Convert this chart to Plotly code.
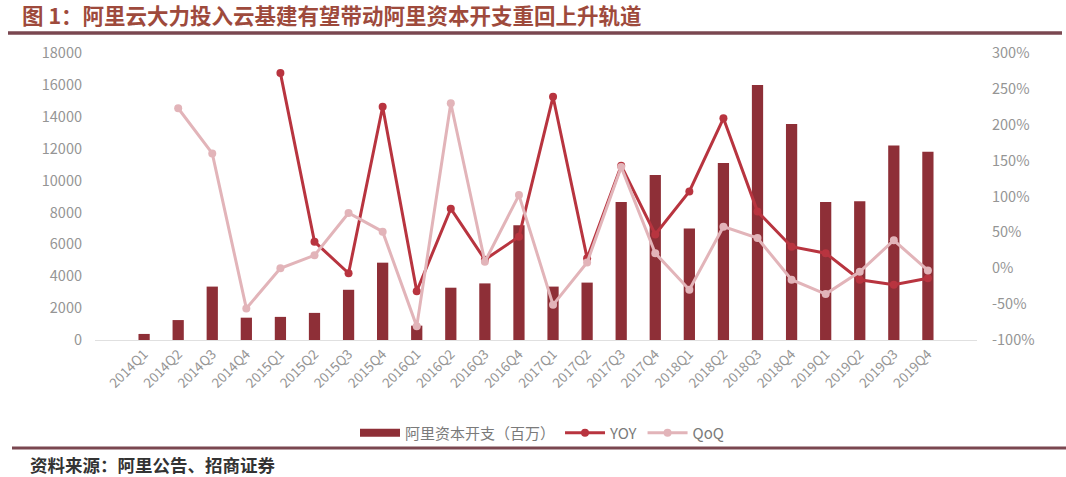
import plotly.graph_objects as go

quarters = ["2014Q1", "2014Q2", "2014Q3", "2014Q4",
            "2015Q1", "2015Q2", "2015Q3", "2015Q4",
            "2016Q1", "2016Q2", "2016Q3", "2016Q4",
            "2017Q1", "2017Q2", "2017Q3", "2017Q4",
            "2018Q1", "2018Q2", "2018Q3", "2018Q4",
            "2019Q1", "2019Q2", "2019Q3", "2019Q4"]

capex = [380, 1250, 3350, 1400, 1450, 1700, 3150, 4850,
         900, 3280, 3550, 7200, 3350, 3600, 8650, 10350,
         7000, 11100, 16000, 13550, 8650, 8700, 12200, 11800]

yoy = [None, None, None, None, 272, 37, -7, 225,
       -32, 83, 12, 44, 239, 14, 143, 47,
       107, 209, 79, 30, 21, -16, -23, -14]

qoq = [None, 223, 160, -56, 0, 18, 77, 51,
       -81, 230, 9, 102, -51, 8, 141, 21,
       -30, 58, 42, -16, -36, -5, 39, -3]

left_ticks = list(range(0, 18001, 2000))
right_ticks = list(range(-100, 301, 50))

BAR = "#8e2f37"
YOY_C = "#b8343f"
QOQ_C = "#e2b4b9"
TICK = "#959595"
FONT = "Noto Sans CJK SC"

W, H = 1066, 477
L, R, T, B = 95, 89, 53, 137
pw, ph = W - L - R, H - T - B


def px(x):
    return (x - L) / pw


def py(y):
    return (H - B - y) / ph


fig = go.Figure()
fig.add_trace(go.Bar(x=quarters, y=capex, name="阿里资本开支（百万）",
                     marker=dict(color=BAR, line=dict(width=0)), yaxis="y",
                     showlegend=False))
# legend swatch for the bar series (wide rectangle, as in the reference)
fig.add_trace(go.Scatter(x=[None], y=[None], name="阿里资本开支（百万）",
                         mode="lines", line=dict(color=BAR, width=8),
                         yaxis="y", showlegend=True))
fig.add_trace(go.Scatter(x=quarters, y=yoy, name="YOY", mode="lines+markers",
                         line=dict(color=YOY_C, width=3),
                         marker=dict(color=YOY_C, size=8), yaxis="y2"))
fig.add_trace(go.Scatter(x=quarters, y=qoq, name="QoQ", mode="lines+markers",
                         line=dict(color=QOQ_C, width=3),
                         marker=dict(color=QOQ_C, size=8), yaxis="y2"))

fig.update_layout(
    width=W, height=H,
    margin=dict(l=L, r=R, t=T, b=B),
    paper_bgcolor="white", plot_bgcolor="white",
    font=dict(family=FONT, color=TICK, size=12),
    bargap=0.67,
    showlegend=True,
    legend=dict(orientation="h", x=px(542), xanchor="center",
                y=py(433), yanchor="middle",
                bgcolor="rgba(0,0,0,0)",
                font=dict(size=15, color="#7a7a7a", family=FONT),
                itemwidth=40, tracegroupgap=0),
    xaxis=dict(type="category", tickangle=-45, showgrid=False,
               showline=True, linecolor="#e0e0e0", linewidth=1,
               ticks="", tickfont=dict(size=13.5, color=TICK),
               automargin=False),
    yaxis=dict(range=[0, 18000], tickvals=left_ticks,
               ticktext=[str(v) for v in left_ticks], showgrid=False,
               zeroline=False, showline=False, ticks="",
               tickfont=dict(size=14.5, color=TICK), ticklabelstandoff=12,
               automargin=False),
    yaxis2=dict(range=[-100, 300], tickvals=right_ticks,
                ticktext=[f"{v}%" for v in right_ticks],
                overlaying="y", side="right", showgrid=False,
                zeroline=False, showline=False, ticks="",
                tickfont=dict(size=14.5, color=TICK), ticklabelstandoff=14,
                automargin=False),
    title=dict(text="图 1：阿里云大力投入云基建有望带动阿里资本开支重回上升轨道",
               x=22 / W, xanchor="left", xref="container",
               y=1 - 16 / H, yanchor="middle", yref="container",
               font=dict(family=FONT, size=21.5, color="#9e4a3c", weight=700)),
    shapes=[
        dict(type="line", xref="paper", yref="paper",
             x0=px(8), x1=px(1062), y0=py(33), y1=py(33),
             line=dict(color="#7a4750", width=3.5)),
        dict(type="line", xref="paper", yref="paper",
             x0=px(12), x1=px(1066), y0=py(448), y1=py(448),
             line=dict(color="#7a4750", width=3)),
    ],
    annotations=[
        dict(text="资料来源：阿里公告、招商证券", xref="paper", yref="paper",
             x=px(28), y=py(464), xanchor="left", yanchor="middle",
             showarrow=False,
             font=dict(family=FONT, size=17.5, color="#333333", weight=700)),
    ],
)

fig.write_html("out.html",
               config={"displayModeBar": False},
               post_script="document.body.style.margin='0px';"
                           "document.body.style.overflow='hidden';")
